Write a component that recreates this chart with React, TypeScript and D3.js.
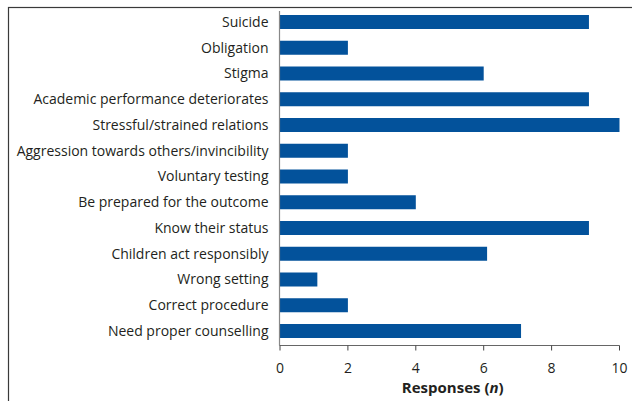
import React from "react";
import * as d3 from "d3";

const categories = [
  "Suicide",
  "Obligation",
  "Stigma",
  "Academic performance deteriorates",
  "Stressful/strained relations",
  "Aggression towards others/invincibility",
  "Voluntary testing",
  "Be prepared for the outcome",
  "Know their status",
  "Children act responsibly",
  "Wrong setting",
  "Correct procedure",
  "Need proper counselling",
];
const responses = [9.1, 2, 6, 9.1, 10, 2, 2, 4, 9.1, 6.1, 1.1, 2, 7.1];
const xTicks = [0, 2, 4, 6, 8, 10];

const W = 632;
const H = 401;
const FONT = "'Open Sans', 'Noto Sans', sans-serif";
const TEXT = "#231f20";
const BAR = "#03529b";

export default function App() {
  const x = d3.scaleLinear().domain([0, 10]).range([280, 619.5]);
  const step = 25.75;
  const bw = 14;
  const pi = 1 - bw / step;
  const y = d3
    .scaleBand<string>()
    .domain(categories)
    .range([15 - (step - bw) / 2, 338 + (step - bw) / 2])
    .paddingInner(pi)
    .paddingOuter(pi / 2);
  const axisY = 345.5;

  return (
    <svg
      width={W}
      height={H}
      style={{ position: "absolute", left: 0, top: 0, display: "block" }}
    >
      <rect x={0} y={0} width={W} height={H} fill="#fff" />
      <rect
        x={8.5}
        y={7.5}
        width={W + 10}
        height={H + 10}
        fill="none"
        stroke="#3a3a3a"
        strokeWidth={1.2}
      />
      {categories.map((c, i) => (
        <rect
          key={c}
          x={x(0)}
          y={y(c)}
          width={x(responses[i]) - x(0)}
          height={y.bandwidth()}
          fill={BAR}
        />
      ))}
      {categories.map((c) => (
        <text
          key={c + "l"}
          x={268.5}
          y={(y(c) as number) + y.bandwidth() / 2}
          dy="0.35em"
          textAnchor="end"
          fontFamily={FONT}
          fontSize={14}
          fill={TEXT}
        >
          {c}
        </text>
      ))}
      <line x1={279.5} x2={279.5} y1={11} y2={axisY} stroke="#888" strokeWidth={1.2} />
      <line x1={279.5} x2={x(10)} y1={axisY} y2={axisY} stroke="#666" strokeWidth={1} />
      {xTicks.map((t) => (
        <g key={t}>
          <line x1={x(t)} x2={x(t)} y1={axisY} y2={axisY + 5} stroke="#444" strokeWidth={1} />
          <text
            x={x(t)}
            y={373}
            textAnchor="middle"
            fontFamily={FONT}
            fontSize={14}
            fill={TEXT}
          >
            {t}
          </text>
        </g>
      ))}
      <text
        x={(x(0) + x(10)) / 2 + 3}
        y={392.5}
        textAnchor="middle"
        fontFamily={FONT}
        fontSize={15}
        fontWeight="bold"
        fill={TEXT}
      >
        Responses (<tspan fontStyle="italic">n</tspan>)
      </text>
    </svg>
  );
}
